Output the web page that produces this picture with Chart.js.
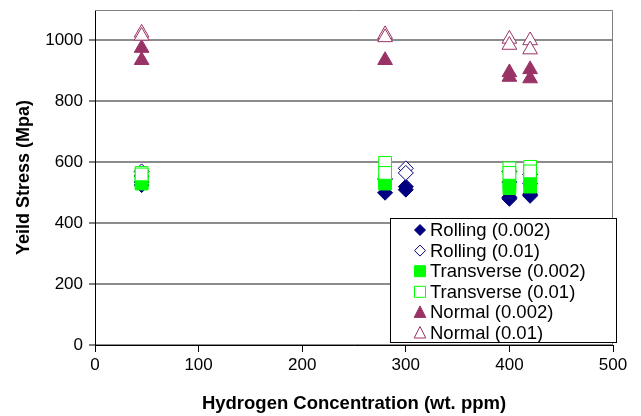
<!DOCTYPE html>
<html>
<head>
<meta charset="utf-8">
<script src="https://cdn.jsdelivr.net/npm/chart.js@4/dist/chart.umd.min.js"></script>
<style>
  html, body { margin: 0; padding: 0; background: #fff; }
  #wrap { width: 641px; height: 416px; position: relative; }
</style>
</head>
<body>
<div id="wrap"><canvas id="c"></canvas></div>
<script>
// ---- Data ----
const seriesNames = ['Rolling (0.002)', 'Rolling (0.01)', 'Transverse (0.002)', 'Transverse (0.01)', 'Normal (0.002)', 'Normal (0.01)'];
const hydrogenRolling002 = [45, 45, 280, 300, 300, 400, 400, 420, 420];
const stressRolling002   = [535, 525, 500, 520, 510, 480, 485, 495, 490];
const hydrogenRolling01  = [45, 45, 280, 300, 300, 400, 400, 420, 420];
const stressRolling01    = [570, 555, 545, 580, 565, 570, 535, 560, 530];
const hydrogenTrans002   = [45, 45, 280, 280, 400, 400, 420, 420];
const stressTrans002     = [535, 530, 540, 530, 530, 515, 540, 520];
const hydrogenTrans01    = [45, 45, 280, 280, 400, 400, 420, 420];
const stressTrans01      = [565, 560, 598, 565, 580, 565, 585, 570];
const hydrogenNormal002  = [45, 45, 280, 400, 400, 420, 420];
const stressNormal002    = [975, 935, 935, 895, 880, 905, 875];
const hydrogenNormal01   = [45, 45, 280, 280, 400, 400, 420, 420];
const stressNormal01     = [1025, 1015, 1020, 1010, 1005, 985, 1000, 970];
const xTickValues = [0, 100, 200, 300, 400, 500];
const yTickValues = [0, 200, 400, 600, 800, 1000];

function pts(xs, ys) { return xs.map((x, i) => ({ x: x, y: ys[i] })); }

const NAVY = '#000080', LIME = '#00FF00', PLUM = '#993366';
const styles = [
  { pointStyle: 'rectRot', r: 7.5, fill: NAVY, stroke: NAVY },
  { pointStyle: 'rectRot', r: 7.5, fill: '#ffffff', stroke: NAVY },
  { pointStyle: 'rect', r: 9, fill: LIME, stroke: LIME },
  { pointStyle: 'rect', r: 9, fill: '#ffffff', stroke: LIME },
  { pointStyle: 'triangle', r: 8.5, fill: PLUM, stroke: PLUM },
  { pointStyle: 'triangle', r: 8.5, fill: '#ffffff', stroke: PLUM }
];
const dataArr = [
  pts(hydrogenRolling002, stressRolling002),
  pts(hydrogenRolling01, stressRolling01),
  pts(hydrogenTrans002, stressTrans002),
  pts(hydrogenTrans01, stressTrans01),
  pts(hydrogenNormal002, stressNormal002),
  pts(hydrogenNormal01, stressNormal01)
];

const datasets = seriesNames.map((name, i) => ({
  label: name,
  data: dataArr[i],
  pointStyle: styles[i].pointStyle,
  pointRadius: styles[i].r,
  pointHoverRadius: styles[i].r,
  backgroundColor: styles[i].fill,
  borderColor: styles[i].stroke,
  borderWidth: 1,
  showLine: false,
  order: 10 - i
}));

const FONT = "'Liberation Sans', Arial, sans-serif";

const frame = {
  id: 'frame',
  beforeDatasetsDraw(chart) {
    const { ctx, chartArea: a } = chart;
    ctx.save();
    ctx.strokeStyle = '#808080';
    ctx.lineWidth = 1;
    ctx.beginPath();
    ctx.moveTo(a.left, a.top + 0.5);
    ctx.lineTo(a.right - 0.5, a.top + 0.5);
    ctx.lineTo(a.right - 0.5, a.bottom);
    ctx.stroke();
    ctx.restore();
  }
};

const legendBox = {
  id: 'legendBox',
  afterDraw(chart) {
    const { ctx } = chart;
    const L = 390.5, T = 218.5, W = 226, H = 124;
    ctx.save();
    ctx.fillStyle = '#ffffff';
    ctx.fillRect(L, T, W, H);
    ctx.strokeStyle = '#000000';
    ctx.lineWidth = 1;
    ctx.strokeRect(L, T, W, H);
    ctx.font = '18.5px ' + FONT;
    ctx.textBaseline = 'middle';
    ctx.textAlign = 'left';
    seriesNames.forEach((name, i) => {
      const y = 230 + i * 20.6;
      const x = 420;
      const s = styles[i];
      ctx.fillStyle = s.fill;
      ctx.strokeStyle = s.stroke;
      ctx.lineWidth = 1;
      ctx.beginPath();
      if (s.pointStyle === 'rectRot') {
        const r = 5.5;
        ctx.moveTo(x - r, y); ctx.lineTo(x, y - r); ctx.lineTo(x + r, y); ctx.lineTo(x, y + r);
      } else if (s.pointStyle === 'rect') {
        const h = 5.5;
        ctx.rect(x - h, y - h, 2 * h, 2 * h);
      } else {
        const w = 5.8, h1 = 6.5, h2 = 5;
        ctx.moveTo(x, y - h1); ctx.lineTo(x + w, y + h2); ctx.lineTo(x - w, y + h2);
      }
      ctx.closePath();
      ctx.fill();
      ctx.stroke();
      ctx.fillStyle = '#000000';
      ctx.fillText(name, 430, y + 1);
    });
    ctx.restore();
  }
};

new Chart(document.getElementById('c'), {
  type: 'scatter',
  data: { datasets },
  plugins: [frame, legendBox],
  options: {
    responsive: true,
    maintainAspectRatio: false,
    animation: false,
    layout: { padding: { top: 10, right: 28, left: 0, bottom: 0 } },
    plugins: { legend: { display: false }, tooltip: { enabled: false } },
    scales: {
      x: {
        type: 'linear',
        min: 0, max: 500,
        afterBuildTicks: (ax) => { ax.ticks = xTickValues.map(v => ({ value: v })); },
        afterFit: (ax) => { ax.height = 71; ax.paddingLeft = 0; ax.paddingRight = 0; },
        border: { color: '#000000', width: 1 },
        grid: { drawOnChartArea: false, drawTicks: true, tickLength: 7, tickColor: '#000000' },
        ticks: { color: '#000000', font: { family: FONT, size: 17 }, padding: 3, maxRotation: 0,
                 callback: (v) => String(v) },
        title: { display: true, text: 'Hydrogen Concentration (wt. ppm)', color: '#000000',
                 font: { family: FONT, size: 18.5, weight: 'bold' }, padding: { top: 0, bottom: 1 } }
      },
      y: {
        type: 'linear',
        min: 0, max: 1100,
        afterBuildTicks: (ax) => { ax.ticks = yTickValues.map(v => ({ value: v })); },
        afterFit: (ax) => { ax.width = 95; ax.paddingTop = 0; ax.paddingBottom = 0; },
        border: { color: '#000000', width: 1 },
        grid: { color: '#8c8c8c', lineWidth: 2, drawTicks: true, tickLength: 6, tickColor: '#000000', tickWidth: 1 },
        ticks: { color: '#000000', font: { family: FONT, size: 17 }, padding: 6,
                 callback: (v) => String(v) },
        title: { display: true, text: 'Yeild Stress (Mpa)', color: '#000000',
                 font: { family: FONT, size: 18, weight: 'bold' }, padding: { top: 13, bottom: 0 } }
      }
    }
  }
});
</script>
</body>
</html>
